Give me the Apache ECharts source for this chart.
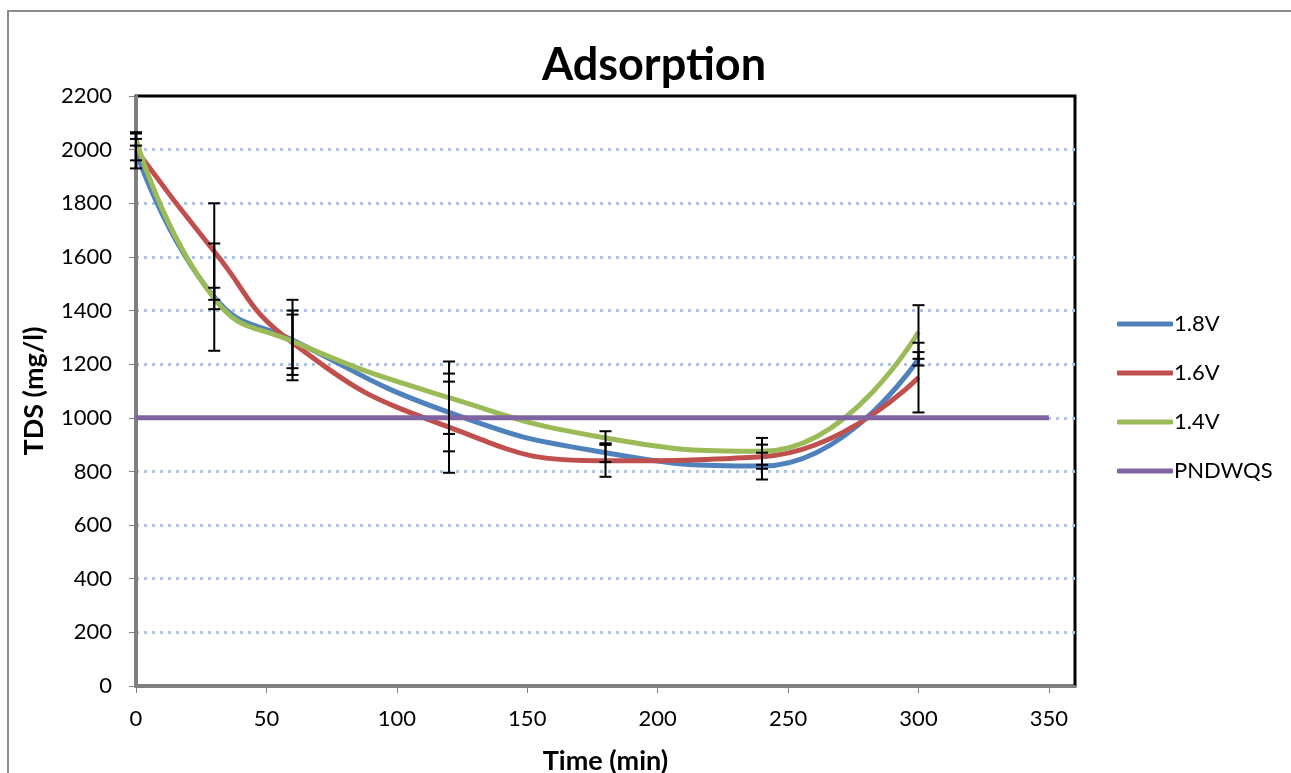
<!DOCTYPE html>
<html>
<head>
<meta charset="utf-8">
<title>Adsorption</title>
<script src="https://cdn.jsdelivr.net/npm/echarts@6/dist/echarts.min.js"></script>
<style>
  html, body { margin: 0; padding: 0; background: #fff; }
  #main { width: 1291px; height: 773px; }
</style>
</head>
<body>
<div id="main"></div>
<script>
// sampling times (min)
var times = [0, 30, 60, 120, 180, 240, 300];
// TDS readings (mg/l) per voltage
var tds18 = [1995, 1450, 1290, 1020, 870, 820, 1220];
var tds16 = [2000, 1620, 1280, 965, 840, 855, 1150];
var tds14 = [2040, 1445, 1285, 1075, 925, 875, 1320];
// error bar half-heights
var err18 = [65, 200, 150, 145, 35, 50, 25];
var err16 = [40, 180, 120, 170, 60, 45, 130];
var err14 = [25, 40, 100, 135, 25, 50, 100];
// drinking water standard line
var limitX = [0, 350];
var limitY = [1000, 1000];

var font = 'Lato, Carlito, Calibri, sans-serif';

function pairs(xs, ys) {
  var out = [];
  for (var i = 0; i < xs.length; i++) out.push([xs[i], ys[i]]);
  return out;
}

function errData() {
  var out = [];
  var sets = [[tds18, err18], [tds16, err16], [tds14, err14]];
  sets.forEach(function (s) {
    for (var i = 0; i < times.length; i++) {
      out.push([times[i], s[0][i] - s[1][i], s[0][i] + s[1][i]]);
    }
  });
  return out;
}

function renderErr(params, api) {
  var lo = api.coord([api.value(0), api.value(1)]);
  var hi = api.coord([api.value(0), api.value(2)]);
  var w = 6;
  var st = { stroke: '#000', lineWidth: 2 };
  return {
    type: 'group',
    children: [
      { type: 'line', shape: { x1: lo[0], y1: lo[1], x2: hi[0], y2: hi[1] }, style: st },
      { type: 'line', shape: { x1: lo[0] - w, y1: lo[1], x2: lo[0] + w, y2: lo[1] }, style: st },
      { type: 'line', shape: { x1: hi[0] - w, y1: hi[1], x2: hi[0] + w, y2: hi[1] }, style: st }
    ]
  };
}

var myChart = echarts.init(document.getElementById('main'));
myChart.setOption({
  animation: false,
  backgroundColor: '#fff',
  textStyle: { fontFamily: font },
  title: {
    text: 'Adsorption',
    left: 649,
    textAlign: 'center',
    top: 38,
    textStyle: { fontSize: 45, fontWeight: 'bold', color: '#000', fontFamily: font }
  },
  graphic: [{
    type: 'rect',
    shape: { x: 8, y: 11, width: 1400, height: 900 },
    style: { fill: 'none', stroke: '#8c8c8c', lineWidth: 2 },
    silent: true,
    z: -10
  }],
  legend: {
    orient: 'vertical',
    left: 1112,
    top: 308,
    itemWidth: 56,
    itemHeight: 5,
    itemGap: 27,
    icon: 'roundRect',
    data: ['1.8V', '1.6V', '1.4V', 'PNDWQS'],
    textStyle: { fontSize: 22, color: '#000', fontFamily: font, padding: [0, 0, 0, -4] }
  },
  grid: {
    left: 136, right: 216, top: 96, bottom: 87,
    outerBoundsMode: 'none',
    containLabel: false,
    show: true, borderColor: '#000', borderWidth: 3, backgroundColor: 'transparent'
  },
  xAxis: {
    type: 'value',
    min: 0, max: 360, interval: 50,
    name: 'Time (min)',
    nameLocation: 'middle',
    nameGap: 62,
    nameTextStyle: { fontSize: 27, fontWeight: 'bold', color: '#000', fontFamily: font },
    axisLine: { show: true, lineStyle: { color: '#7f7f7f', width: 3 } },
    axisTick: { show: true, length: 7, lineStyle: { color: '#7f7f7f', width: 1 } },
    axisLabel: { fontSize: 22, color: '#000', margin: 22, showMaxLabel: false, fontFamily: font },
    splitLine: { show: false }
  },
  yAxis: {
    type: 'value',
    min: 0, max: 2200, interval: 200,
    name: 'TDS (mg/l)',
    nameLocation: 'middle',
    nameGap: 88,
    nameTextStyle: { fontSize: 27, fontWeight: 'bold', color: '#000', fontFamily: font },
    axisLine: { show: true, lineStyle: { color: '#7f7f7f', width: 3 } },
    axisTick: { show: true, length: 7, lineStyle: { color: '#7f7f7f', width: 1 } },
    axisLabel: {
      fontSize: 22, color: '#000', margin: 24, fontFamily: font,
      formatter: function (v) { return String(v); }
    },
    splitLine: {
      show: true, showMinLine: false, showMaxLine: false,
      lineStyle: { color: '#adc3e3', width: 3, type: [3, 5] }
    }
  },
  series: [
    {
      name: '1.8V', type: 'line', smooth: 0.5, showSymbol: false,
      data: pairs(times, tds18),
      lineStyle: { color: '#4f81bd', width: 5 }, itemStyle: { color: '#4f81bd' }, z: 2
    },
    {
      name: '1.6V', type: 'line', smooth: 0.5, showSymbol: false,
      data: pairs(times, tds16),
      lineStyle: { color: '#c0504d', width: 5 }, itemStyle: { color: '#c0504d' }, z: 3
    },
    {
      name: '1.4V', type: 'line', smooth: 0.5, showSymbol: false,
      data: pairs(times, tds14),
      lineStyle: { color: '#9bbb59', width: 5 }, itemStyle: { color: '#9bbb59' }, z: 4
    },
    {
      name: 'PNDWQS', type: 'line', showSymbol: false,
      data: pairs(limitX, limitY),
      lineStyle: { color: '#8064a2', width: 5 }, itemStyle: { color: '#8064a2' }, z: 5
    },
    {
      type: 'custom', renderItem: renderErr, data: errData(),
      encode: { x: 0, y: [1, 2] }, z: 6, silent: true
    }
  ]
});
</script>
</body>
</html>
